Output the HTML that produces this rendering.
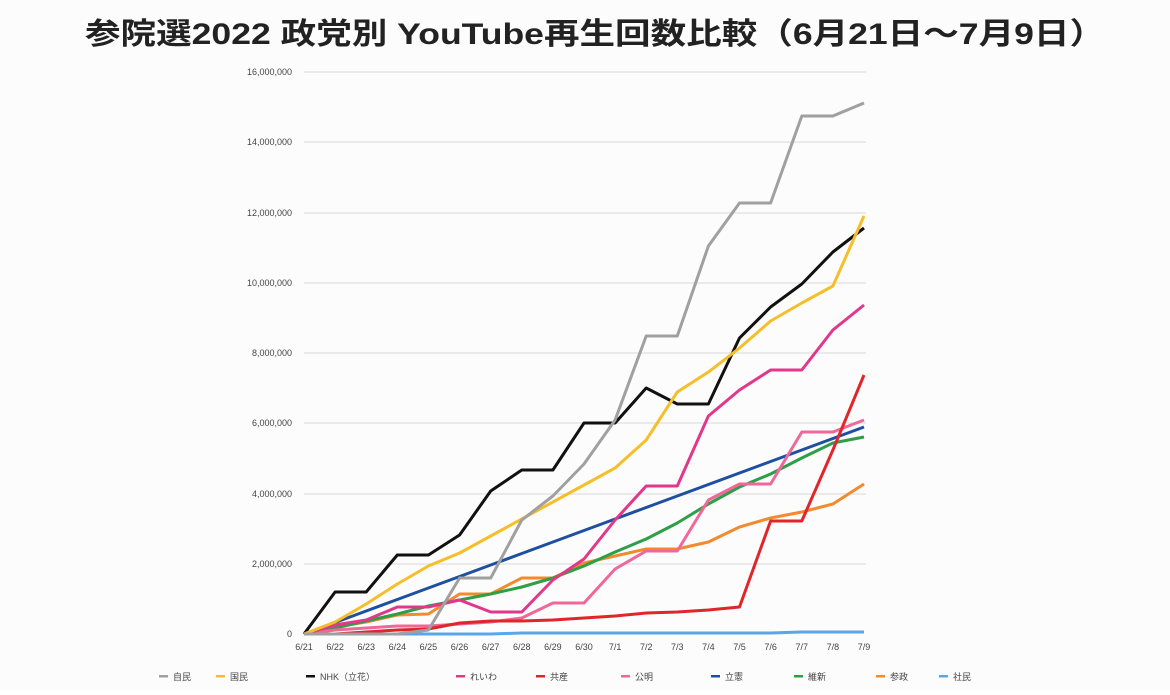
<!DOCTYPE html>
<html><head><meta charset="utf-8"><style>
body{margin:0;background:#fff;width:1170px;height:690px;overflow:hidden}
</style></head><body>
<svg width="1170" height="690" xmlns="http://www.w3.org/2000/svg" font-family="Liberation Sans, Noto Sans CJK JP, sans-serif">
<rect width="1170" height="690" fill="#fcfcfc"/>
<text x="85" y="44" textLength="1020" lengthAdjust="spacingAndGlyphs" font-size="30" font-weight="bold" fill="#222" font-family="Liberation Sans, Noto Sans CJK JP, sans-serif">参院選2022 政党別 YouTube再生回数比較（6月21日〜7月9日）</text>
<g stroke="#e4e4e4" stroke-width="1.5">
<line x1="304" x2="866" y1="72" y2="72"/><line x1="304" x2="866" y1="142" y2="142"/><line x1="304" x2="866" y1="213" y2="213"/><line x1="304" x2="866" y1="283" y2="283"/><line x1="304" x2="866" y1="353" y2="353"/><line x1="304" x2="866" y1="423" y2="423"/><line x1="304" x2="866" y1="494" y2="494"/><line x1="304" x2="866" y1="564" y2="564"/>
</g>
<g font-size="9" fill="#444" text-anchor="end">
<text x="292" y="75">16,000,000</text><text x="292" y="145">14,000,000</text><text x="292" y="216">12,000,000</text><text x="292" y="286">10,000,000</text><text x="292" y="356">8,000,000</text><text x="292" y="426">6,000,000</text><text x="292" y="497">4,000,000</text><text x="292" y="567">2,000,000</text><text x="292" y="637">0</text>
</g>
<g font-size="9" fill="#444" text-anchor="middle" id="xl"></g>
<g fill="none" stroke-width="3" stroke-linejoin="round" id="lines"></g>
<g font-size="9" fill="#444" id="leg"></g>
<script>
var x0=304,dx=31.11,ns="http://www.w3.org/2000/svg";
var labels=["6/21","6/22","6/23","6/24","6/25","6/26","6/27","6/28","6/29","6/30","7/1","7/2","7/3","7/4","7/5","7/6","7/7","7/8","7/9"];
var xl=document.getElementById("xl");
labels.forEach(function(l,i){var t=document.createElementNS(ns,"text");t.setAttribute("x",x0+i*dx);t.setAttribute("y",650);t.textContent=l;xl.appendChild(t);});
var blue=[];for(var i=0;i<19;i++)blue.push(634-i*11.5);
var S=[
["#5aa6e8",[634,634,634,634,634,634,634,633,633,633,633,633,633,633,633,633,632,632,632]],
["#f28a2e",[634,627,622,615,614,594,594,578,578,563,556,549,549,542,527,518,512,504,484]],
["#2e9e48",[634,628,621,614,606,600,594,587,578,566,552,539,523,504,487,474,458,443,437]],
["#1f4fa0",blue],
["#f0689a",[634,630,628,626,626,624,622,618,603,603,569,551,551,500,484,484,432,432,420]],
["#e0262a",[634,634,632,630,629,623,621,621,620,618,616,613,612,610,607,521,521,450,375]],
["#e2378a",[634,625,620,607,607,600,612,612,580,559,520,486,486,416,390,370,370,330,305]],
["#111111",[634,592,592,555,555,535,491,470,470,423,423,388,404,404,338,307,284,252,228]],
["#f6bf2a",[634,622,604,584,566,553,536,519,502,485,468,440,392,372,348,321,303,286,216]],
["#a0a0a0",[634,634,634,634,630,578,578,520,496,464,420,336,336,246,203,203,116,116,103]]
];
var g=document.getElementById("lines");
S.forEach(function(s){var p=document.createElementNS(ns,"polyline");p.setAttribute("points",s[1].map(function(y,i){return (x0+i*dx).toFixed(1)+","+y}).join(" "));p.setAttribute("stroke",s[0]);g.appendChild(p);});
var L=[["#a0a0a0","自民",183],["#f6bf2a","国民",240],["#111","NHK（立花）",330],["#e2378a","れいわ",480],["#e0262a","共産",560],["#f0689a","公明",645],["#1f4fa0","立憲",735],["#2e9e48","維新",818],["#f28a2e","参政",900],["#5aa6e8","社民",963]];
var lg=document.getElementById("leg");
L.forEach(function(l){var r=document.createElementNS(ns,"rect");r.setAttribute("x",l[2]-24);r.setAttribute("y",675);r.setAttribute("width",9);r.setAttribute("height",2.5);r.setAttribute("fill",l[0]);lg.appendChild(r);var t=document.createElementNS(ns,"text");t.setAttribute("x",l[2]-10);t.setAttribute("y",680);t.textContent=l[1];lg.appendChild(t);});
</script>
</svg>
</body></html>
